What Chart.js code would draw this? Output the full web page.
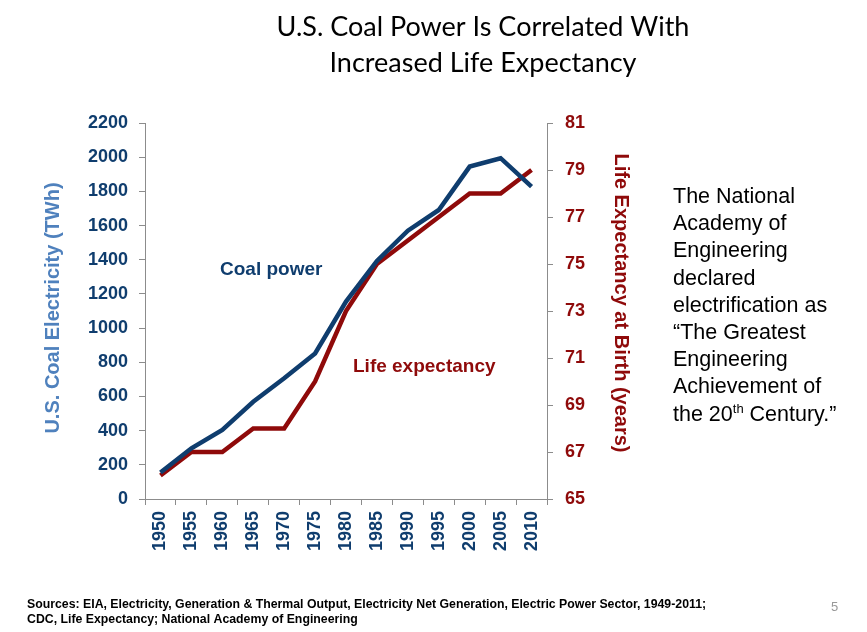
<!DOCTYPE html>
<html>
<head>
<meta charset="utf-8">
<script src="https://cdn.jsdelivr.net/npm/chart.js@4"></script>
<style>
  html, body { margin: 0; padding: 0; background: #fff; }
  #wrap { width: 867px; height: 632px; }
</style>
</head>
<body>
<div id="wrap"><canvas id="coal-chart" width="867" height="632"></canvas></div>
<script>
const years = ['1950', '1955', '1960', '1965', '1970', '1975', '1980', '1985', '1990', '1995', '2000', '2005', '2010'];
const coalTWh = [155, 297, 404, 569, 706, 852, 1155, 1393, 1570, 1691, 1945, 1994, 1828];
const lifeExpectancy = [66, 67, 67, 68, 68, 70, 73, 75, 76, 77, 78, 78, 79];
const titleLines = ['U.S. Coal Power Is Correlated With', 'Increased Life Expectancy'];
const noteLines = ['The National', 'Academy of', 'Engineering', 'declared', 'electrification as', '\u201CThe Greatest', 'Engineering', 'Achievement of'];
const sourceLines = [
  'Sources: EIA, Electricity, Generation & Thermal Output, Electricity Net Generation, Electric Power Sector, 1949-2011;',
  'CDC, Life Expectancy; National Academy of Engineering'
];

const NAVY = '#0f3d6e';
const RED = '#8f0a0a';
const AXIS = '#8c8c8c';

// text that is not part of the axes: title, labels, notes, sources
const slideText = {
  id: 'slideText',
  afterDraw(chart) {
    const c = chart.ctx;
    c.save();
    c.textBaseline = 'alphabetic';

    c.fillStyle = '#000';
    c.font = '27px Lato, "Open Sans", sans-serif';
    c.textAlign = 'center';
    c.fillText(titleLines[0], 483, 36);
    c.fillText(titleLines[1], 483, 72);

    // axis titles
    c.font = 'bold 20px "Liberation Sans", Arial, sans-serif';
    c.save();
    c.translate(59, 308);
    c.rotate(-Math.PI / 2);
    c.fillStyle = '#4f81bd';
    c.fillText('U.S. Coal Electricity (TWh)', 0, 0);
    c.restore();
    c.save();
    c.translate(615, 303);
    c.rotate(Math.PI / 2);
    c.fillStyle = RED;
    c.fillText('Life Expectancy at Birth (years)', 0, 0);
    c.restore();

    // series labels
    c.textAlign = 'left';
    c.font = 'bold 19px "Liberation Sans", Arial, sans-serif';
    c.fillStyle = NAVY;
    c.fillText('Coal power', 220, 275);
    c.fillStyle = RED;
    c.fillText('Life expectancy', 353, 372);

    // note on the right
    c.fillStyle = '#000';
    c.font = '21.5px "Liberation Sans", Arial, sans-serif';
    let y = 203;
    noteLines.forEach(line => { c.fillText(line, 673, y); y += 27.2; });
    let x = 673;
    c.fillText('the 20', x, y);
    x += c.measureText('the 20').width;
    c.font = '13px "Liberation Sans", Arial, sans-serif';
    c.fillText('th', x, y - 8);
    x += c.measureText('th').width;
    c.font = '21.5px "Liberation Sans", Arial, sans-serif';
    c.fillText(' Century.\u201D', x, y);

    // sources
    c.font = 'bold 12.3px "Liberation Sans", Arial, sans-serif';
    c.fillText(sourceLines[0], 27, 608);
    c.fillText(sourceLines[1], 27, 623);
    c.font = '13px "Liberation Sans", Arial, sans-serif';
    c.fillStyle = '#999';
    c.fillText('5', 831, 611);
    c.restore();
  }
};

const tickFont = { family: '"Liberation Sans", Arial, sans-serif', size: 18, weight: 'bold' };

new Chart(document.getElementById('coal-chart'), {
  type: 'line',
  data: {
    labels: years,
    datasets: [
      {
        label: 'Coal power',
        data: coalTWh,
        yAxisID: 'y',
        borderColor: NAVY,
        borderWidth: 4.5,
        pointRadius: 0,
        tension: 0,
        fill: false
      },
      {
        label: 'Life expectancy',
        data: lifeExpectancy,
        yAxisID: 'y1',
        borderColor: RED,
        borderWidth: 4.5,
        pointRadius: 0,
        tension: 0,
        fill: false
      }
    ]
  },
  options: {
    responsive: false,
    animation: false,
    layout: { padding: { top: 123, left: 0, right: 0, bottom: 0 } },
    plugins: {
      legend: { display: false },
      tooltip: { enabled: false },
      title: { display: false }
    },
    scales: {
      x: {
        offset: true,
        grid: { offset: true, drawOnChartArea: false, color: AXIS, tickLength: 6 },
        border: { color: AXIS },
        ticks: {
          autoSkip: false,
          minRotation: 90,
          maxRotation: 90,
          padding: 6,
          color: NAVY,
          font: tickFont
        },
        afterFit: (s) => { s.height = 133; }
      },
      y: {
        position: 'left',
        min: 0,
        max: 2200,
        grid: { drawOnChartArea: false, color: AXIS, tickLength: 6 },
        border: { color: AXIS },
        ticks: {
          stepSize: 200,
          padding: 11,
          color: NAVY,
          font: tickFont,
          callback: (v) => String(v)
        },
        afterFit: (s) => { s.width = 145; }
      },
      y1: {
        position: 'right',
        min: 65,
        max: 81,
        grid: { drawOnChartArea: false, color: AXIS, tickLength: 6 },
        border: { color: AXIS },
        ticks: {
          stepSize: 2,
          padding: 12,
          color: RED,
          font: tickFont,
          callback: (v) => String(v)
        },
        afterFit: (s) => { s.width = 320; }
      }
    }
  },
  plugins: [slideText]
});
</script>
</body>
</html>
